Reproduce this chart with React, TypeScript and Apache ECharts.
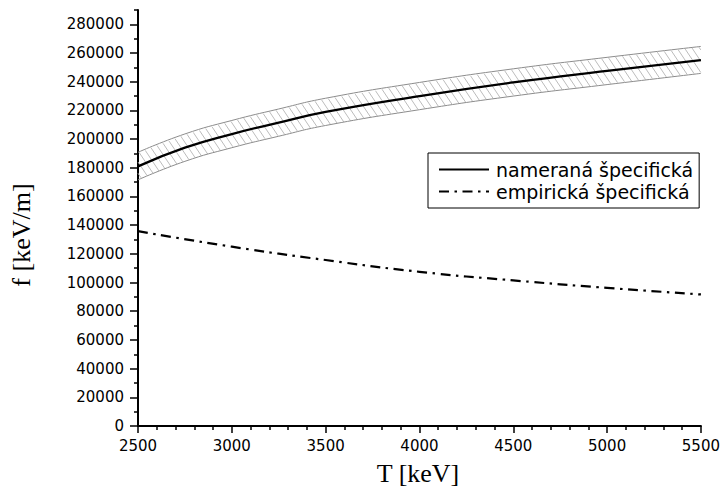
import React, { useEffect, useRef } from 'react';
import * as echarts from 'echarts';

// Energy T [keV]
const measuredT = [2500, 2750, 3000, 3250, 3500, 4000, 4500, 5000, 5500];
// Measured specific energy loss f [keV/m]
const measuredF = [181000, 194000, 203500, 211500, 219000, 230000, 239500, 247500, 255000];
const measuredUpper = [190800, 203600, 213000, 221000, 228500, 239500, 249000, 257000, 264600];
const measuredLower = [171600, 184500, 194000, 202000, 209500, 220500, 230000, 238000, 245800];

const empiricalT = [2500, 3000, 3500, 4000, 4500, 5000, 5500];
const empiricalF = [135800, 125000, 115700, 107500, 101500, 96300, 91700];

const yMajorTicks = [0, 20000, 40000, 60000, 80000, 100000, 120000, 140000, 160000, 180000, 200000, 220000, 240000, 260000, 280000];
const yMinorTicks = [10000, 30000, 50000, 70000, 90000, 110000, 130000, 150000, 170000, 190000, 210000, 230000, 250000, 270000, 290000];

const seriesNames = ['nameraná špecifická', 'empirická špecifická'];

export default function App() {
  const ref = useRef<HTMLDivElement>(null);
  useEffect(() => {
    if (!ref.current) return;
    const chart = echarts.init(ref.current, undefined, { renderer: 'svg' });
    const tickFont = { fontFamily: 'DejaVu Sans', fontSize: 15, color: '#000', formatter: (v: number) => String(v) };

    const renderBand = (params: any, api: any) => {
      const up = measuredT.map((t, i) => api.coord([t, measuredUpper[i]]));
      const lo = measuredT.map((t, i) => api.coord([t, measuredLower[i]]));
      const interp = (pts: number[][], x: number) => {
        for (let i = 0; i < pts.length - 1; i++) {
          if (x <= pts[i + 1][0] || i === pts.length - 2) {
            const a = pts[i], b = pts[i + 1];
            const r = (x - a[0]) / (b[0] - a[0]);
            return a[1] + r * (b[1] - a[1]);
          }
        }
        return pts[pts.length - 1][1];
      };
      const xa = up[0][0];
      const xb = up[up.length - 1][0];
      const k = 1.5;
      const gap = 7.5;
      let cMin = Infinity, cMax = -Infinity;
      for (let x = xa; x <= xb; x += 1) {
        cMin = Math.min(cMin, interp(up, x) - k * x);
        cMax = Math.max(cMax, interp(lo, x) - k * x);
      }
      const dc = gap * k;
      const children: any[] = [];
      const st = 0.25;
      for (let c = Math.ceil(cMin / dc) * dc; c <= cMax; c += dc) {
        let start: number[] | null = null;
        let last: number[] | null = null;
        for (let x = xa; x <= xb + 1e-6; x += st) {
          const y = k * x + c;
          const inside = y >= interp(up, x) + 0.5 && y <= interp(lo, x) - 0.5;
          if (inside) {
            if (!start) start = [x, y];
            last = [x, y];
          }
          if ((!inside || x + st > xb + 1e-6) && start && last) {
            children.push({
              type: 'line',
              silent: true,
              shape: { x1: start[0], y1: start[1], x2: last[0], y2: last[1] },
              style: { stroke: '#b4b4b4', lineWidth: 0.9 },
            });
            start = null;
            last = null;
          }
        }
      }
      return { type: 'group', children };
    };

    chart.setOption({
      animation: false,
      backgroundColor: '#fff',
      grid: { left: 138, right: 22, top: 10, bottom: 69, containLabel: false },
      xAxis: {
        type: 'value',
        min: 2500,
        max: 5500,
        interval: 500,
        axisLine: { show: true, lineStyle: { color: '#000', width: 2 } },
        axisTick: { show: true, inside: false, length: 7, lineStyle: { color: '#000', width: 1.5 } },
        minorTick: { show: true, splitNumber: 5, length: 4, lineStyle: { color: '#000', width: 1.5 } },
        axisLabel: { ...tickFont, margin: 12 },
        splitLine: { show: false },
        minorSplitLine: { show: false },
      },
      yAxis: [
        {
          type: 'value',
          min: 0,
          max: 290000,
          axisLine: { show: true, lineStyle: { color: '#000', width: 2 } },
          axisTick: { show: true, inside: false, length: 8, customValues: yMajorTicks, lineStyle: { color: '#000', width: 1.5 } },
          axisLabel: { ...tickFont, margin: 14, customValues: yMajorTicks },
          splitLine: { show: false },
        },
        {
          type: 'value',
          min: 0,
          max: 290000,
          position: 'left',
          axisLine: { show: false },
          axisTick: { show: true, inside: false, length: 4, customValues: yMinorTicks, lineStyle: { color: '#000', width: 1.5 } },
          axisLabel: { show: false },
          splitLine: { show: false },
        },
      ],
      legend: {
        data: seriesNames,
        orient: 'vertical',
        left: 428,
        top: 153,
        itemWidth: 50,
        itemHeight: 14,
        itemGap: 3,
        padding: [7, 6, 7, 10],
        borderColor: '#000',
        borderWidth: 1,
        backgroundColor: '#fff',
        itemStyle: { opacity: 0 },
        textStyle: { fontFamily: 'DejaVu Sans', fontSize: 19, color: '#000', padding: [0, 0, 0, 2] },
        selectedMode: false,
      },
      graphic: [
        {
          type: 'text',
          x: 21,
          y: 235,
          rotation: Math.PI / 2,
          style: {
            text: 'f [keV/m]',
            fontFamily: 'Liberation Serif',
            fontSize: 26,
            fill: '#000',
            align: 'center',
            verticalAlign: 'middle',
          },
        },
        {
          type: 'text',
          x: 418,
          y: 473,
          style: {
            text: 'T [keV]',
            fontFamily: 'Liberation Serif',
            fontSize: 26,
            fill: '#000',
            align: 'center',
            verticalAlign: 'middle',
          },
        },
      ],
      series: [
        {
          type: 'custom',
          name: 'pásmo',
          coordinateSystem: 'cartesian2d',
          data: [[measuredT[0], measuredF[0]]],
          renderItem: renderBand,
          clip: false,
          silent: true,
          z: 1,
        },
        {
          type: 'line',
          name: 'horná hranica',
          data: measuredT.map((t, i) => [t, measuredUpper[i]]),
          smooth: true,
          symbol: 'none',
          lineStyle: { color: '#8c8c8c', width: 1 },
          z: 2,
        },
        {
          type: 'line',
          name: 'dolná hranica',
          data: measuredT.map((t, i) => [t, measuredLower[i]]),
          smooth: true,
          symbol: 'none',
          lineStyle: { color: '#8c8c8c', width: 1 },
          z: 2,
        },
        {
          type: 'line',
          name: seriesNames[0],
          data: measuredT.map((t, i) => [t, measuredF[i]]),
          smooth: true,
          symbol: 'none',
          color: '#000',
          lineStyle: { color: '#000', width: 2.3 },
          z: 3,
        },
        {
          type: 'line',
          name: seriesNames[1],
          data: empiricalT.map((t, i) => [t, empiricalF[i]]),
          smooth: true,
          symbol: 'none',
          color: '#000',
          lineStyle: { color: '#000', width: 2.2, type: [10, 5.5, 2.5, 5.5] },
          z: 3,
        },
      ],
    });
    return () => chart.dispose();
  }, []);
  return <div ref={ref} style={{ position: 'fixed', left: 0, top: 0, width: 723, height: 495 }} />;
}
